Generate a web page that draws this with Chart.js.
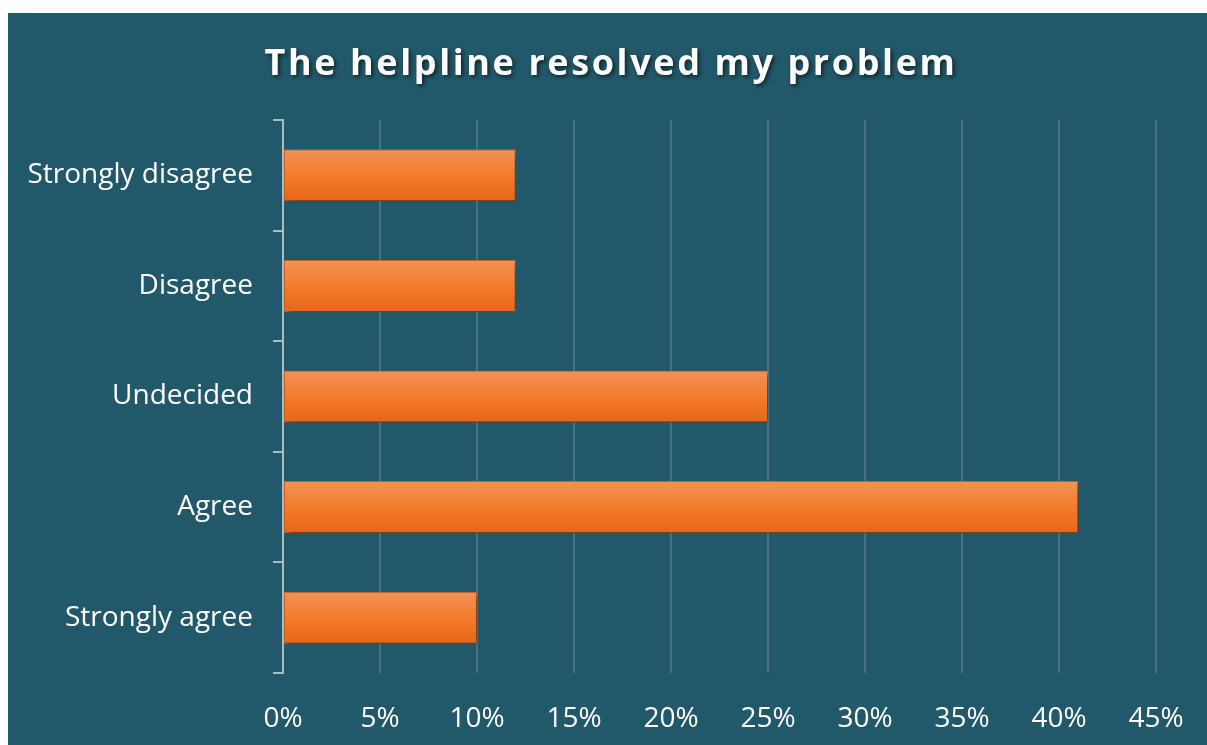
<!DOCTYPE html>
<html>
<head>
<meta charset="utf-8">
<script src="https://cdn.jsdelivr.net/npm/chart.js@4"></script>
<style>
  html, body { margin: 0; padding: 0; background: #ffffff; }
  #panel {
    position: absolute;
    left: 8px; top: 13px;
    width: 1199px; height: 732px;
    background: #22596a;
  }
</style>
</head>
<body>
<div id="panel"><canvas id="chart" width="1199" height="732"></canvas></div>
<script>
const chartTitle = 'The helpline resolved my problem';
const categories = ['Strongly disagree', 'Disagree', 'Undecided', 'Agree', 'Strongly agree'];
const percentages = [12, 12, 25, 41, 10];
const xTicks = [0, 5, 10, 15, 20, 25, 30, 35, 40, 45];

const FONT = "'Open Sans', sans-serif";

// title drawn by hand so it gets letter spacing and a shadow
const titlePlugin = {
    id: 'shadowTitle',
    afterDraw(chart) {
        const ctx = chart.ctx;
        ctx.save();
        ctx.font = 'bold 36px ' + FONT;
        if ('letterSpacing' in ctx) ctx.letterSpacing = '2.6px';
        ctx.fillStyle = '#ffffff';
        ctx.textAlign = 'center';
        ctx.textBaseline = 'middle';
        ctx.shadowColor = 'rgba(0,0,0,0.6)';
        ctx.shadowBlur = 4;
        ctx.shadowOffsetX = 2;
        ctx.shadowOffsetY = 2;
        ctx.fillText(chartTitle, 603, 52);
        ctx.restore();
    }
};

const barShadow = {
    id: 'barShadow',
    beforeDatasetsDraw(chart) {
        const ctx = chart.ctx;
        ctx.save();
        ctx.shadowColor = 'rgba(0,0,0,0.5)';
        ctx.shadowBlur = 7;
        ctx.shadowOffsetX = 3;
        ctx.shadowOffsetY = 4;
    },
    afterDatasetsDraw(chart) {
        chart.ctx.restore();
    }
};

function barGradient(context) {
    const chart = context.chart;
    const yScale = chart.scales.y;
    if (!yScale || context.dataIndex === undefined) return '#f47a2a';
    const center = yScale.getPixelForValue(context.dataIndex);
    if (!isFinite(center)) return '#f47a2a';
    const half = 26;
    const g = chart.ctx.createLinearGradient(0, center - half, 0, center + half);
    g.addColorStop(0, '#f29158');
    g.addColorStop(0.5, '#f47c2c');
    g.addColorStop(1, '#e6661a');
    return g;
}

new Chart(document.getElementById('chart'), {
    type: 'bar',
    data: {
        labels: categories,
        datasets: [{
            data: percentages,
            backgroundColor: barGradient,
            borderColor: '#d8621d',
            borderWidth: 1,
            borderSkipped: false,
            categoryPercentage: 1,
            barPercentage: 0.47
        }]
    },
    options: {
        indexAxis: 'y',
        responsive: false,
        animation: false,
        layout: { padding: { top: 107, right: 51, left: 0, bottom: 0 } },
        plugins: {
            legend: { display: false },
            title: { display: false },
            tooltip: { enabled: false }
        },
        scales: {
            x: {
                min: 0,
                max: 45,
                afterBuildTicks(axis) {
                    axis.ticks = xTicks.map(v => ({ value: v }));
                },
                grid: {
                    color: 'rgba(255,255,255,0.16)',
                    lineWidth: 2,
                    drawTicks: false
                },
                border: { display: false },
                ticks: {
                    color: '#ffffff',
                    font: { family: FONT, size: 28 },
                    padding: 29,
                    callback: v => v + '%'
                },
                afterFit(axis) {
                    axis.height = 72;
                    axis.paddingLeft = 0;
                    axis.paddingRight = 0;
                }
            },
            y: {
                grid: {
                    drawOnChartArea: false,
                    drawTicks: true,
                    tickLength: 10,
                    color: '#a9bcc2',
                    lineWidth: 2
                },
                border: { display: true, color: '#a9bcc2', width: 2 },
                ticks: {
                    color: '#ffffff',
                    font: { family: FONT, size: 28 },
                    padding: 20
                },
                afterFit(axis) { axis.width = 275; }
            }
        }
    },
    plugins: [barShadow, titlePlugin]
});
</script>
</body>
</html>
